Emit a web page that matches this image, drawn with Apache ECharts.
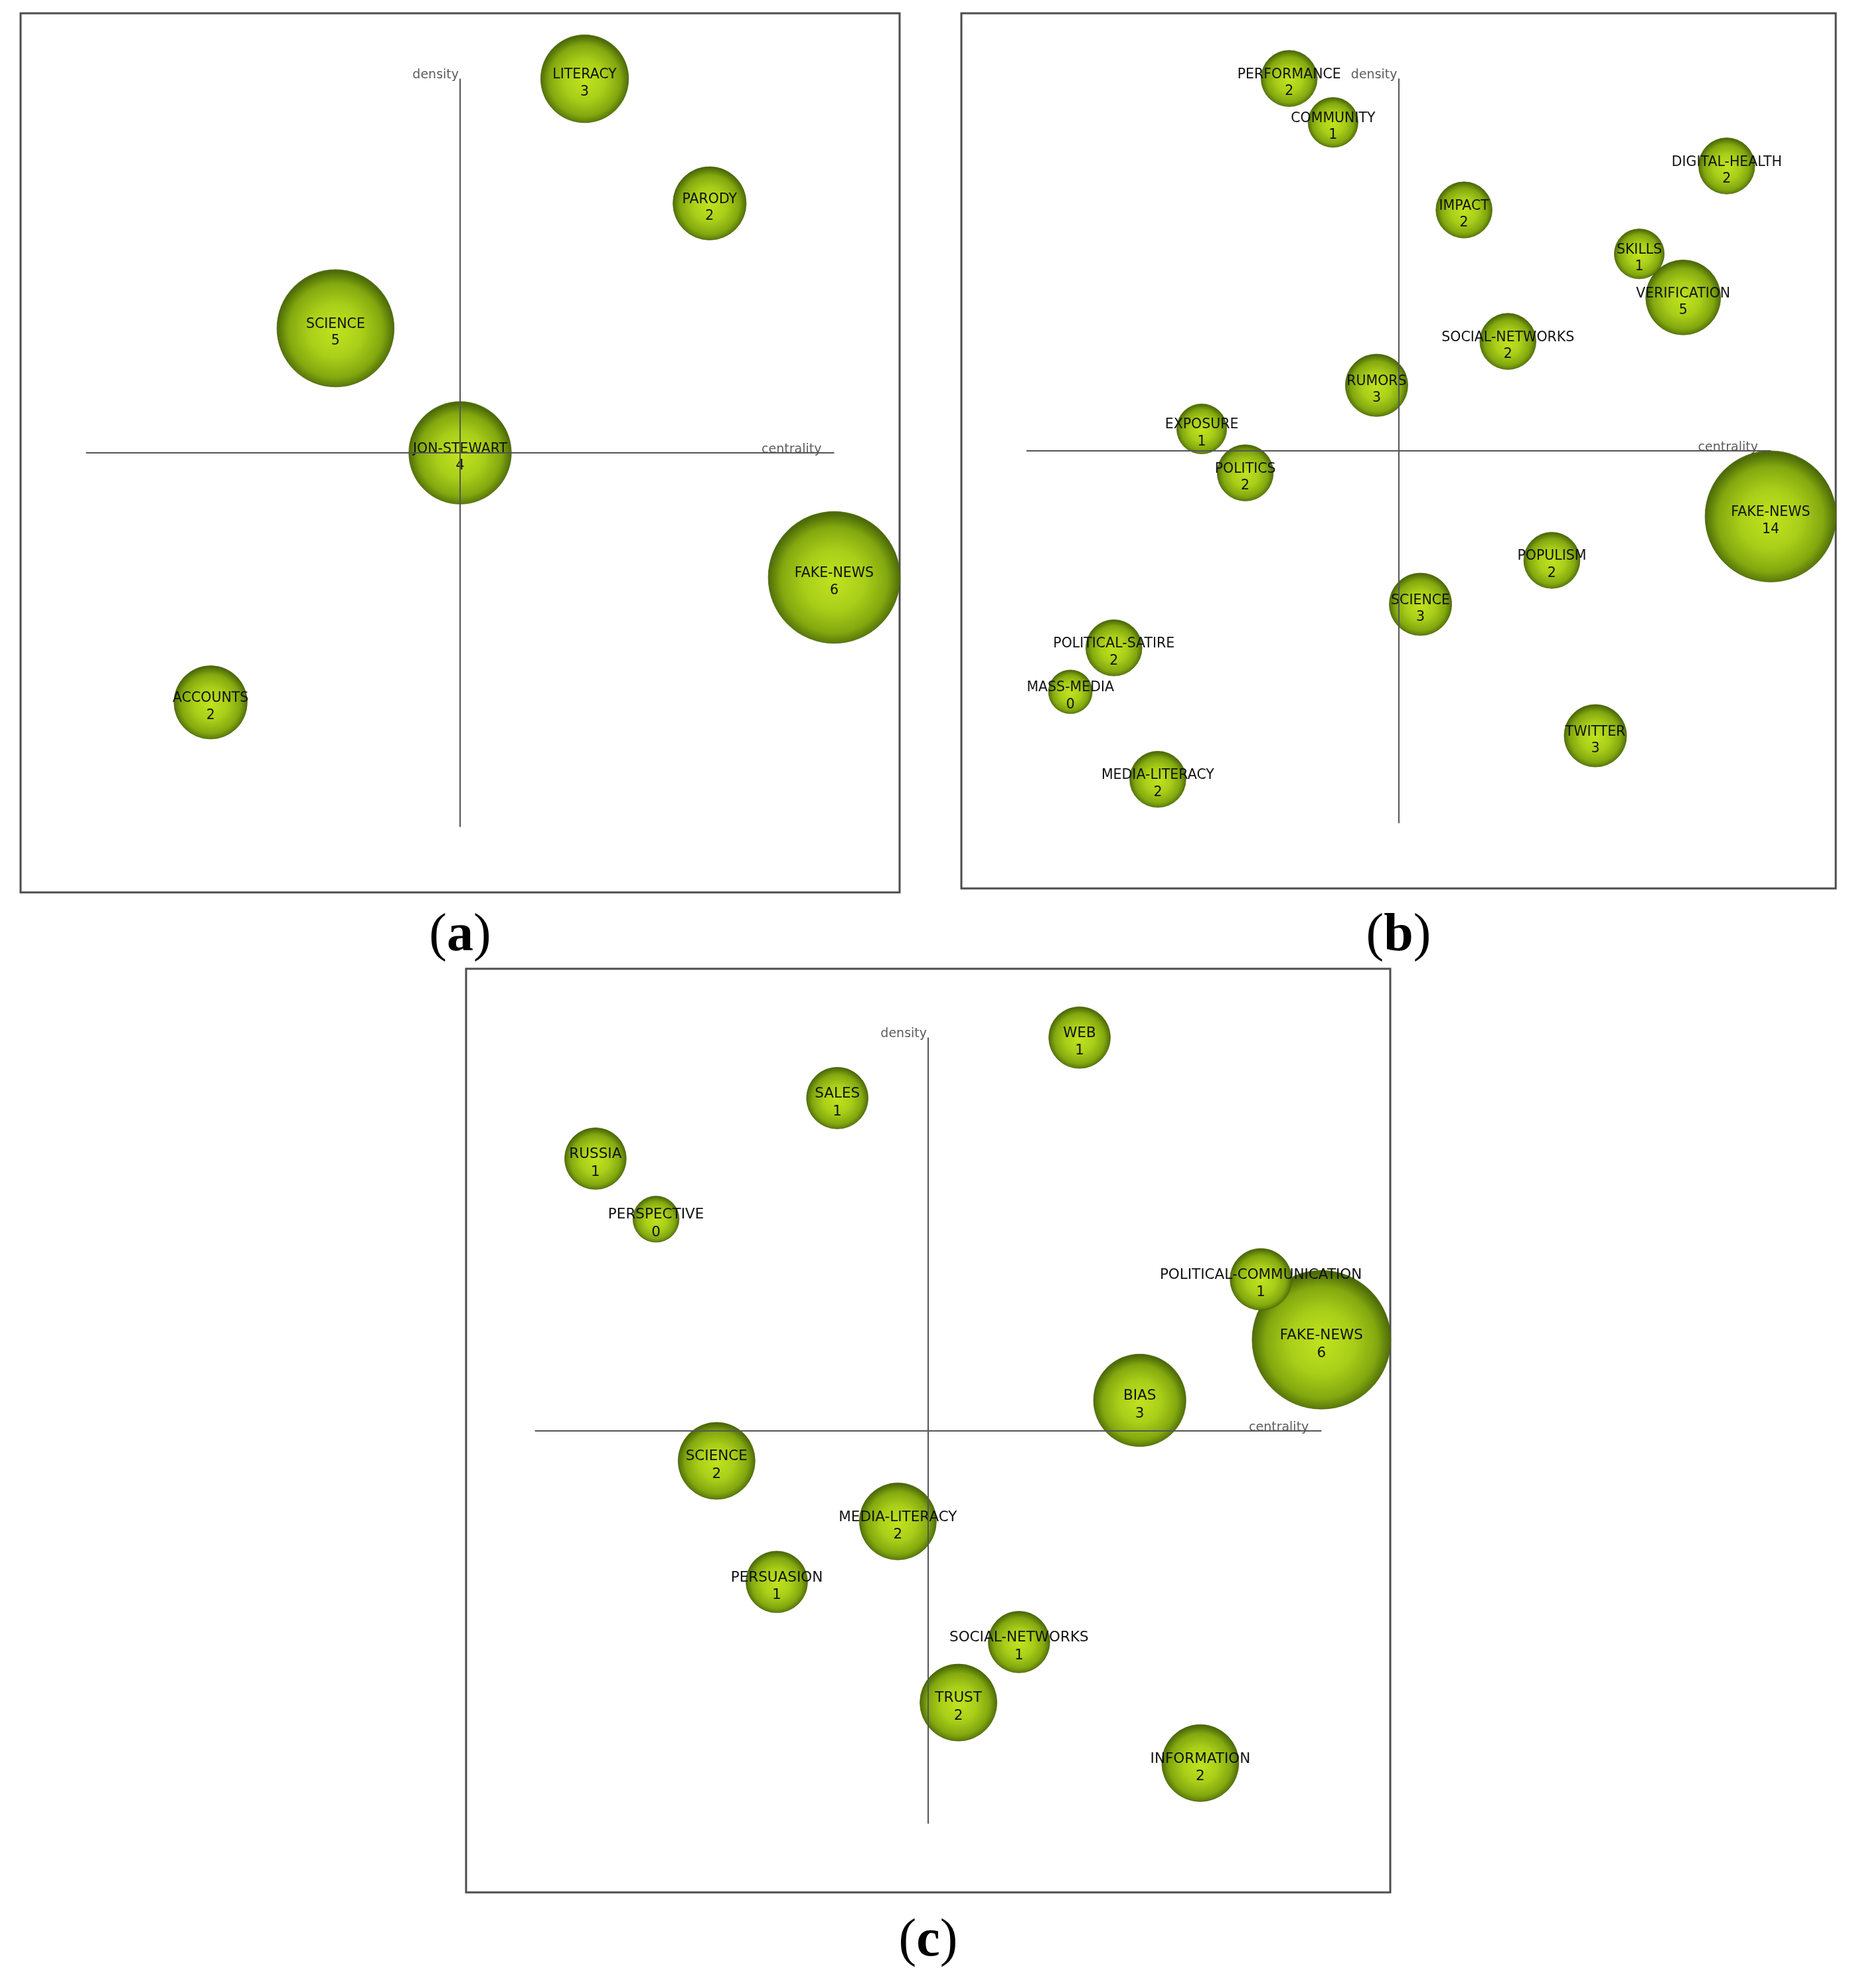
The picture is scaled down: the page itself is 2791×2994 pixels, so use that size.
<!DOCTYPE html>
<html>
<head>
<meta charset="utf-8">
<script src="https://cdn.jsdelivr.net/npm/echarts@6/dist/echarts.min.js"></script>
<style>
  html, body { margin: 0; padding: 0; background: #fff; }
  #chart { width: 2791px; height: 2994px; }
</style>
</head>
<body>
<div id="chart"></div>
<script>
// (a) themes, centrality / density (axis lines run -100..100), documents
var namesA = ['LITERACY', 'PARODY', 'SCIENCE', 'JON-STEWART', 'FAKE-NEWS', 'ACCOUNTS'];
var centralityA = [33.3, 66.7, -33.3, 0, 100, -66.7];
var densityA = [100, 66.7, 33.3, 0, -33.3, -66.7];
var docsA = [3, 2, 5, 4, 6, 2];

// (b)
var namesB = ['PERFORMANCE', 'COMMUNITY', 'DIGITAL-HEALTH', 'IMPACT', 'SKILLS', 'VERIFICATION',
  'SOCIAL-NETWORKS', 'RUMORS', 'EXPOSURE', 'POLITICS', 'FAKE-NEWS', 'POPULISM', 'SCIENCE',
  'POLITICAL-SATIRE', 'MASS-MEDIA', 'TWITTER', 'MEDIA-LITERACY'];
var centralityB = [-29.4, -17.6, 88.2, 17.6, 64.7, 76.5, 29.4, -5.9, -52.9, -41.2, 100, 41.2, 5.9, -76.5, -88.2, 52.9, -64.7];
var densityB = [100, 88.2, 76.5, 64.7, 52.9, 41.2, 29.4, 17.6, 5.9, -5.9, -17.6, -29.4, -41.2, -52.9, -64.7, -76.5, -88.2];
var docsB = [2, 1, 2, 2, 1, 5, 2, 3, 1, 2, 14, 2, 3, 2, 0, 3, 2];

// (c)
var namesC = ['WEB', 'SALES', 'RUSSIA', 'PERSPECTIVE', 'POLITICAL-COMMUNICATION', 'FAKE-NEWS', 'BIAS',
  'SCIENCE', 'MEDIA-LITERACY', 'PERSUASION', 'SOCIAL-NETWORKS', 'TRUST', 'INFORMATION'];
var centralityC = [38.5, -23.1, -84.6, -69.2, 84.6, 100, 53.8, -53.8, -7.7, -38.5, 23.1, 7.7, 69.2];
var densityC = [100, 84.6, 69.2, 53.8, 38.5, 23.1, 7.7, -7.7, -23.1, -38.5, -53.8, -69.2, -84.6];
var docsC = [1, 1, 1, 0, 1, 6, 3, 2, 2, 1, 1, 2, 2];

var axisNames = ['centrality', 'density'];

var panels = [
  { tag: 'a', names: namesA, x: centralityA, y: densityA, n: docsA, box: [31, 20, 1324, 1324], font: 20.5, tagTop: 1370 },
  { tag: 'b', names: namesB, x: centralityB, y: densityB, n: docsB, box: [1448, 20, 1317, 1318], font: 20.5, tagTop: 1370 },
  { tag: 'c', names: namesC, x: centralityC, y: densityC, n: docsC, box: [702, 1459, 1392, 1391], font: 21.5, tagTop: 2884 }
];

var myChart = echarts.init(document.getElementById('chart'));

var bubbleColor = {
  type: 'radial', x: 0.5, y: 0.52, r: 0.5,
  colorStops: [
    { offset: 0, color: '#c0e31f' },
    { offset: 0.45, color: '#aacf19' },
    { offset: 0.8, color: '#83a80f' },
    { offset: 1, color: '#4d6b08' }
  ]
};

var option = {
  backgroundColor: '#fff',
  animation: false,
  title: [],
  grid: [],
  xAxis: [],
  yAxis: [],
  series: []
};

panels.forEach(function (p, i) {
  option.grid.push({
    left: p.box[0], top: p.box[1], width: p.box[2], height: p.box[3],
    show: true, borderColor: '#4d4d4d', borderWidth: 3
  });
  option.xAxis.push({ gridIndex: i, type: 'value', min: -117.5, max: 117.5, show: false });
  option.yAxis.push({ gridIndex: i, type: 'value', min: -117.5, max: 117.5, show: false });

  var maxN = Math.max.apply(null, p.n);
  var D = p.box[2] * 0.15;
  var items = p.names.map(function (name, k) {
    return { name: name, value: [p.x[k], p.y[k], p.n[k]] };
  });
  // big bubbles first so small ones sit on top
  items.sort(function (a, b) { return b.value[2] - a.value[2]; });

  option.series.push({
    type: 'scatter',
    xAxisIndex: i,
    yAxisIndex: i,
    clip: false,
    data: items,
    symbolSize: function (v) { return D * (1 + 2 * v[2] / maxN) / 3; },
    itemStyle: { color: bubbleColor, borderColor: 'rgba(70,95,5,0.7)', borderWidth: 1, opacity: 1 },
    label: {
      show: true,
      position: 'inside',
      offset: [0, 7],
      formatter: function (q) { return q.name + '\n' + q.value[2]; },
      fontFamily: 'DejaVu Sans',
      fontSize: p.font,
      lineHeight: p.font + 5,
      color: '#111'
    },
    emphasis: { disabled: true },
    markLine: {
      silent: true,
      symbol: 'none',
      animation: false,
      label: { show: false },
      lineStyle: { color: '#555', width: 2, type: 'solid' },
      data: [
        [{ coord: [-100, 0] }, { coord: [100, 0] }],
        [{ coord: [0, -100] }, { coord: [0, 100] }]
      ]
    }
  });

  // axis captions at the line ends
  option.series.push({
    type: 'scatter',
    xAxisIndex: i,
    yAxisIndex: i,
    symbolSize: 0,
    silent: true,
    data: [
      { name: axisNames[0], value: [100, 0], label: { position: [-19, 5] } },
      { name: axisNames[1], value: [0, 100], label: { position: [-2, 4] } }
    ],
    label: {
      show: true,
      formatter: '{b}',
      align: 'right',
      verticalAlign: 'bottom',
      fontFamily: 'DejaVu Sans',
      fontSize: 19,
      color: '#333'
    }
  });

  option.title.push({
    text: '{p|(}{b|' + p.tag + '}{p|)}',
    left: p.box[0] + p.box[2] / 2,
    top: p.tagTop,
    textAlign: 'center',
    padding: 0,
    textStyle: {
      fontWeight: 'normal',
      rich: {
        p: { fontFamily: 'Liberation Serif', fontSize: 80, fontWeight: 'normal', color: '#000' },
        b: { fontFamily: 'Liberation Serif', fontSize: 80, fontWeight: 'bold', color: '#000' }
      }
    }
  });
});

myChart.setOption(option);
</script>
</body>
</html>
